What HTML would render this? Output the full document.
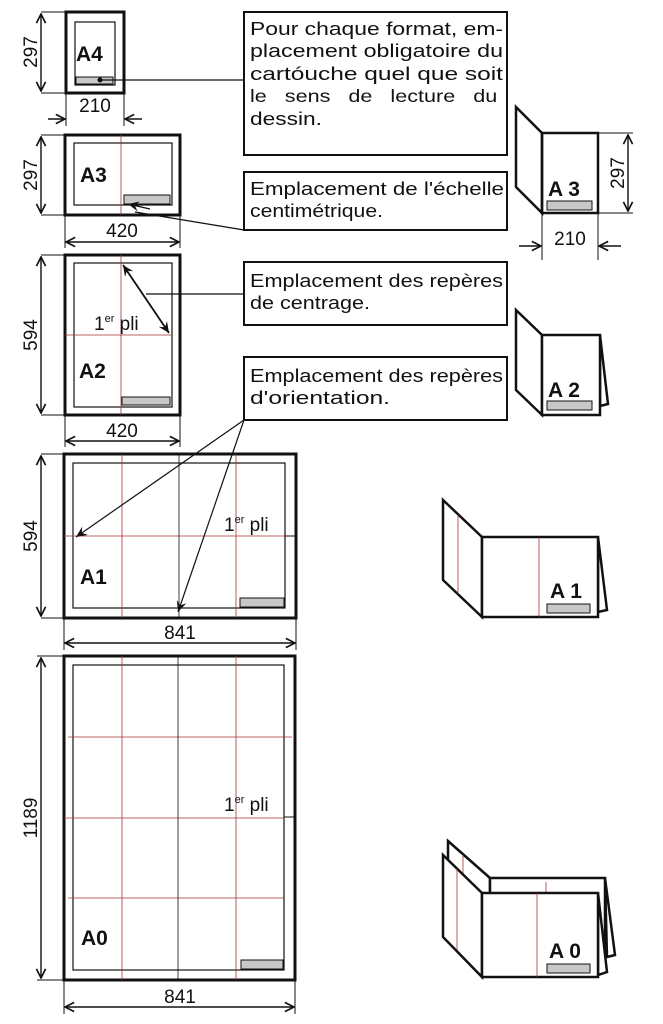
<!DOCTYPE html>
<html><head><meta charset="utf-8"><style>
html,body{margin:0;padding:0;background:#fff;}
svg{display:block;}
text{font-family:"Liberation Sans",sans-serif;fill:#111;}
.b{font-weight:bold;}
</style></head><body>
<svg width="663" height="1024" viewBox="0 0 663 1024" xmlns="http://www.w3.org/2000/svg">
<defs>
<marker id="ar" viewBox="0 0 12 12" refX="11" refY="6" markerWidth="11" markerHeight="11" orient="auto-start-reverse" markerUnits="userSpaceOnUse">
<path d="M1,1 L11,6 L1,11" fill="none" stroke="#111" stroke-width="1.8"/></marker>
<marker id="as" viewBox="0 0 12 12" refX="11" refY="6" markerWidth="12" markerHeight="12" orient="auto-start-reverse" markerUnits="userSpaceOnUse">
<path d="M0,1 L11,6 L0,11 L4,6 Z" fill="#111"/></marker>
</defs>
<g stroke="#111" fill="none">
<!-- A4 -->
<rect x="66" y="12" width="58" height="81" stroke-width="3"/>
<rect x="75" y="22" width="40" height="63" stroke-width="1.2"/>
<rect x="76" y="77" width="37" height="7" fill="#c8c8c8" stroke-width="1"/>
<line x1="41" y1="12" x2="66" y2="12" stroke-width="1"/>
<line x1="41" y1="93" x2="66" y2="93" stroke-width="1"/>
<line x1="41" y1="14" x2="41" y2="91" stroke-width="1.4" marker-start="url(#ar)" marker-end="url(#ar)"/>
<line x1="66" y1="93" x2="66" y2="126" stroke-width="1"/>
<line x1="124" y1="93" x2="124" y2="126" stroke-width="1"/>
<line x1="48" y1="119" x2="65" y2="119" stroke-width="1.4" marker-end="url(#ar)"/>
<line x1="142" y1="119" x2="125" y2="119" stroke-width="1.4" marker-end="url(#ar)"/>
<!-- A3 -->
<rect x="65" y="135" width="115" height="80" stroke-width="3"/>
<rect x="74" y="143" width="98" height="62" stroke-width="1.2"/>
<line x1="121" y1="135" x2="121" y2="215" stroke="#a33" stroke-width="0.8"/>
<rect x="124" y="195" width="46" height="9" fill="#c8c8c8" stroke-width="1"/>
<line x1="41" y1="135" x2="65" y2="135" stroke-width="1"/>
<line x1="41" y1="215" x2="65" y2="215" stroke-width="1"/>
<line x1="41" y1="137" x2="41" y2="213" stroke-width="1.4" marker-start="url(#ar)" marker-end="url(#ar)"/>
<line x1="65" y1="215" x2="65" y2="248" stroke-width="1"/>
<line x1="180" y1="215" x2="180" y2="248" stroke-width="1"/>
<line x1="66" y1="242" x2="179" y2="242" stroke-width="1.4" marker-start="url(#ar)" marker-end="url(#ar)"/>
<!-- A2 -->
<rect x="65" y="255" width="115" height="160" stroke-width="3"/>
<rect x="74" y="263" width="98" height="144" stroke-width="1.2"/>
<line x1="121" y1="255" x2="121" y2="415" stroke="#a33" stroke-width="0.8"/>
<line x1="65" y1="335" x2="172" y2="335" stroke="#a33" stroke-width="0.8"/>
<rect x="122" y="397" width="48" height="8" fill="#c8c8c8" stroke-width="1"/>
<line x1="123" y1="265" x2="169" y2="333" stroke-width="1.8" marker-start="url(#as)" marker-end="url(#as)"/>
<line x1="41" y1="255" x2="65" y2="255" stroke-width="1"/>
<line x1="41" y1="415" x2="65" y2="415" stroke-width="1"/>
<line x1="41" y1="257" x2="41" y2="413" stroke-width="1.4" marker-start="url(#ar)" marker-end="url(#ar)"/>
<line x1="65" y1="415" x2="65" y2="447" stroke-width="1"/>
<line x1="180" y1="415" x2="180" y2="447" stroke-width="1"/>
<line x1="66" y1="441" x2="179" y2="441" stroke-width="1.4" marker-start="url(#ar)" marker-end="url(#ar)"/>
<!-- A1 -->
<rect x="64" y="454" width="232" height="164" stroke-width="3"/>
<rect x="73" y="463" width="212" height="145" stroke-width="1.2"/>
<g stroke="#a33" stroke-width="0.8">
<line x1="122" y1="454" x2="122" y2="618"/><line x1="236" y1="454" x2="236" y2="618"/>
<line x1="64" y1="536" x2="285" y2="536"/></g>
<line x1="179" y1="454" x2="179" y2="618" stroke-width="0.8"/>
<line x1="285" y1="536" x2="296" y2="536" stroke-width="1"/>
<rect x="240" y="598" width="44" height="9" fill="#c8c8c8" stroke-width="1"/>
<line x1="41" y1="454" x2="64" y2="454" stroke-width="1"/>
<line x1="41" y1="618" x2="64" y2="618" stroke-width="1"/>
<line x1="41" y1="456" x2="41" y2="616" stroke-width="1.4" marker-start="url(#ar)" marker-end="url(#ar)"/>
<line x1="64" y1="618" x2="64" y2="650" stroke-width="1"/>
<line x1="296" y1="618" x2="296" y2="650" stroke-width="1"/>
<line x1="65" y1="643" x2="295" y2="643" stroke-width="1.4" marker-start="url(#ar)" marker-end="url(#ar)"/>
<!-- A0 -->
<rect x="64" y="656" width="231" height="324" stroke-width="3"/>
<rect x="73" y="665" width="211" height="305" stroke-width="1.2"/>
<g stroke="#a33" stroke-width="0.8">
<line x1="122" y1="656" x2="122" y2="980"/><line x1="236" y1="656" x2="236" y2="980"/>
<line x1="68" y1="737" x2="292" y2="737"/><line x1="64" y1="818" x2="284" y2="818"/><line x1="68" y1="898" x2="284" y2="898"/></g>
<line x1="178" y1="656" x2="178" y2="980" stroke-width="0.8"/>
<line x1="284" y1="817" x2="295" y2="817" stroke-width="1"/>
<rect x="241" y="960" width="42" height="9" fill="#c8c8c8" stroke-width="1"/>
<line x1="37" y1="656" x2="64" y2="656" stroke-width="1"/>
<line x1="37" y1="980" x2="64" y2="980" stroke-width="1"/>
<line x1="41" y1="658" x2="41" y2="978" stroke-width="1.4" marker-start="url(#ar)" marker-end="url(#ar)"/>
<line x1="64" y1="980" x2="64" y2="1014" stroke-width="1"/>
<line x1="295" y1="980" x2="295" y2="1014" stroke-width="1"/>
<line x1="65" y1="1007" x2="294" y2="1007" stroke-width="1.4" marker-start="url(#ar)" marker-end="url(#ar)"/>
<!-- text boxes -->
<rect x="244" y="12" width="263" height="143" stroke-width="2"/>
<rect x="244" y="172" width="263" height="58" stroke-width="2"/>
<rect x="244" y="262" width="263" height="63" stroke-width="2"/>
<rect x="244" y="357" width="263" height="63" stroke-width="2"/>
<!-- leaders -->
<line x1="100" y1="80" x2="244" y2="80" stroke-width="1.2"/>
<circle cx="100" cy="80" r="2" fill="#111"/>
<polyline points="244,230 135,212" stroke-width="1.2"/>
<line x1="150" y1="209" x2="128" y2="204" stroke-width="1.4" marker-end="url(#as)"/>
<line x1="244" y1="294" x2="146" y2="294" stroke-width="1.2"/>
<line x1="244" y1="420" x2="76" y2="537" stroke-width="1.2" marker-end="url(#as)"/>
<line x1="244" y1="420" x2="178" y2="612" stroke-width="1.2" marker-end="url(#as)"/>
<!-- folded A3 -->
<polygon points="516,107 542,133 542,213 516,187" stroke-width="2.5" fill="#fff"/>
<rect x="542" y="133" width="56" height="80" stroke-width="2.5"/>
<rect x="547" y="201" width="45" height="9" fill="#c8c8c8" stroke-width="1"/>
<line x1="598" y1="133" x2="633" y2="133" stroke-width="1"/>
<line x1="598" y1="213" x2="633" y2="213" stroke-width="1"/>
<line x1="628" y1="135" x2="628" y2="211" stroke-width="1.4" marker-start="url(#ar)" marker-end="url(#ar)"/>
<line x1="542" y1="213" x2="542" y2="260" stroke-width="1"/>
<line x1="598" y1="213" x2="598" y2="260" stroke-width="1"/>
<line x1="519" y1="246" x2="541" y2="246" stroke-width="1.4" marker-end="url(#ar)"/>
<line x1="621" y1="246" x2="599" y2="246" stroke-width="1.4" marker-end="url(#ar)"/>
<!-- folded A2 -->
<polygon points="516,310 542,335 542,415 516,390" stroke-width="2.5" fill="#fff"/>
<polygon points="600,335 608,404 600,406" stroke-width="2.5" fill="#fff"/>
<rect x="542" y="335" width="58" height="80" stroke-width="2.5" fill="#fff"/>
<rect x="547" y="401" width="45" height="9" fill="#c8c8c8" stroke-width="1"/>
<!-- folded A1 -->
<polygon points="443,500 482,537 482,617 443,580" stroke-width="2.5" fill="#fff"/>
<line x1="458" y1="515" x2="458" y2="594" stroke="#a33" stroke-width="0.8"/>
<polygon points="598,537 607,610 598,612" stroke-width="2.5" fill="#fff"/>
<rect x="482" y="537" width="116" height="80" stroke-width="2.5" fill="#fff"/>
<line x1="539" y1="537" x2="539" y2="617" stroke="#a33" stroke-width="0.8"/>
<rect x="547" y="604" width="43" height="9" fill="#c8c8c8" stroke-width="1"/>
<!-- folded A0 -->
<polygon points="448,841 490,878 490,960 448,922" stroke-width="2.5" fill="#fff"/>
<polygon points="605,878 615,955 607,957" stroke-width="2.5" fill="#fff"/>
<rect x="490" y="878" width="115" height="75" stroke-width="2.5" fill="#fff"/>
<line x1="546" y1="882" x2="546" y2="893" stroke="#a33" stroke-width="0.8"/>
<line x1="463" y1="855" x2="463" y2="935" stroke="#a33" stroke-width="0.8"/>
<polygon points="443,855 482,893 482,977 443,937" stroke-width="2.5" fill="#fff"/>
<line x1="457" y1="869" x2="457" y2="950" stroke="#a33" stroke-width="0.8"/>
<polygon points="598,893 607,972 598,975" stroke-width="2.5" fill="#fff"/>
<rect x="482" y="893" width="116" height="84" stroke-width="2.5" fill="#fff"/>
<line x1="537" y1="893" x2="537" y2="977" stroke="#a33" stroke-width="0.8"/>
<rect x="547" y="964" width="43" height="9" fill="#c8c8c8" stroke-width="1"/>
</g>
<!-- labels -->
<text x="76" y="61" class="b" font-size="21">A4</text>
<text x="80" y="182" class="b" font-size="21">A3</text>
<text x="79" y="378" class="b" font-size="21">A2</text>
<text x="80" y="584" class="b" font-size="21">A1</text>
<text x="81" y="945" class="b" font-size="21">A0</text>
<text x="95" y="112" font-size="19" text-anchor="middle">210</text>
<text x="122" y="237" font-size="19" text-anchor="middle">420</text>
<text x="122" y="437" font-size="19" text-anchor="middle">420</text>
<text x="180" y="639" font-size="19" text-anchor="middle">841</text>
<text x="180" y="1003" font-size="19" text-anchor="middle">841</text>
<text font-size="19" text-anchor="middle" transform="translate(37,52) rotate(-90)">297</text>
<text font-size="19" text-anchor="middle" transform="translate(37,175) rotate(-90)">297</text>
<text font-size="19" text-anchor="middle" transform="translate(37,335) rotate(-90)">594</text>
<text font-size="19" text-anchor="middle" transform="translate(37,536) rotate(-90)">594</text>
<text font-size="19" text-anchor="middle" transform="translate(37,818) rotate(-90)">1189</text>
<text font-size="19" text-anchor="middle" transform="translate(624,173) rotate(-90)">297</text>
<text x="570" y="245" font-size="19" text-anchor="middle">210</text>
<text x="94" y="330" font-size="19">1<tspan font-size="11" dy="-8">er</tspan><tspan dy="8"> pli</tspan></text>
<text x="224" y="531" font-size="19">1<tspan font-size="11" dy="-8">er</tspan><tspan dy="8"> pli</tspan></text>
<text x="224" y="811" font-size="19">1<tspan font-size="11" dy="-8">er</tspan><tspan dy="8"> pli</tspan></text>
<text x="548" y="196" class="b" font-size="21">A 3</text>
<text x="548" y="397" class="b" font-size="21">A 2</text>
<text x="550" y="598" class="b" font-size="21">A 1</text>
<text x="549" y="958" class="b" font-size="21">A 0</text>
<g font-size="18">
<text x="250" y="35" textLength="253" lengthAdjust="spacingAndGlyphs">Pour chaque format, em-</text>
<text x="250" y="57" textLength="253" lengthAdjust="spacingAndGlyphs">placement obligatoire du</text>
<text x="250" y="80" textLength="253" lengthAdjust="spacingAndGlyphs">cartóuche quel que soit</text>
<text x="0" y="0" transform="translate(250,102) scale(1.2,1)" word-spacing="10">le sens de lecture du</text>
<text x="250" y="125" textLength="72" lengthAdjust="spacingAndGlyphs">dessin.</text>
<text x="250" y="195" textLength="254" lengthAdjust="spacingAndGlyphs">Emplacement de l'échelle</text>
<text x="250" y="217" textLength="133" lengthAdjust="spacingAndGlyphs">centimétrique.</text>
<text x="250" y="287" textLength="253" lengthAdjust="spacingAndGlyphs">Emplacement des repères</text>
<text x="250" y="309" textLength="120" lengthAdjust="spacingAndGlyphs">de centrage.</text>
<text x="250" y="382" textLength="253" lengthAdjust="spacingAndGlyphs">Emplacement des repères</text>
<text x="250" y="404" textLength="140" lengthAdjust="spacingAndGlyphs">d'orientation.</text>
</g>
</svg>
</body></html>
